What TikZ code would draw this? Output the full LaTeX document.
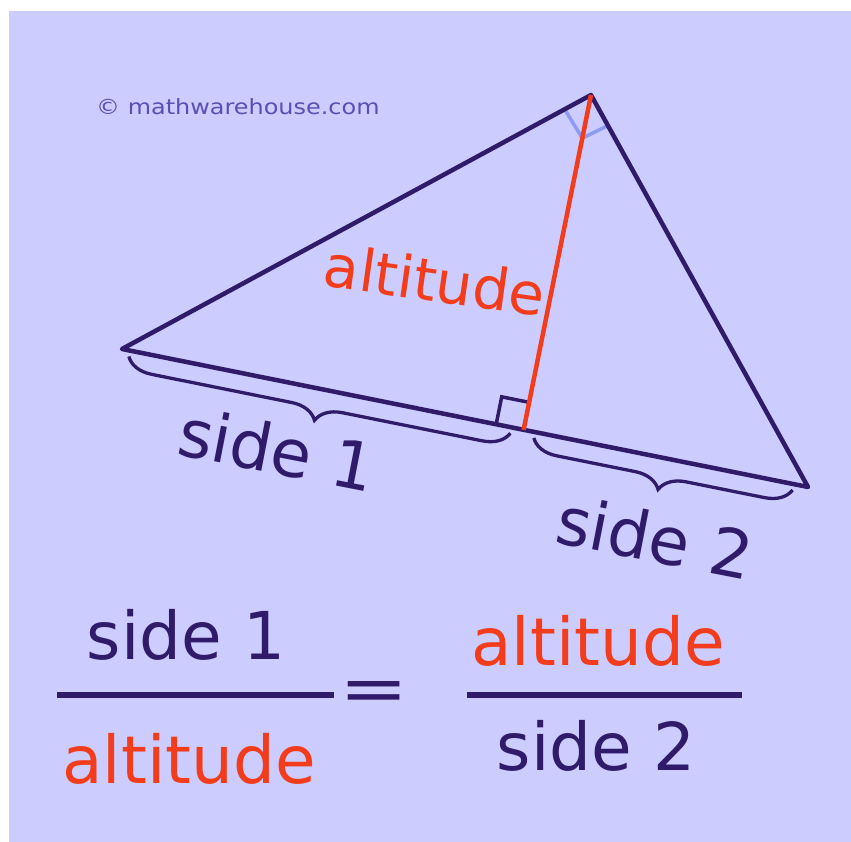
\documentclass[tikz,border=0pt]{standalone}
\usepackage{fontspec}
\setmainfont{DejaVu Sans}
\usetikzlibrary{calc,decorations.pathreplacing}
\definecolor{bg}{HTML}{CCCCFF}
\definecolor{ink}{HTML}{301B6A}
\definecolor{alt}{HTML}{F23C1C}
\definecolor{markc}{HTML}{8C9AF2}
\definecolor{wm}{HTML}{5A50B4}
\begin{document}
\begin{tikzpicture}[x=1pt,y=-1pt,
  sideline/.style={draw=ink, line width=4.5pt, line join=round, line cap=round},
  altline/.style={draw=alt, line width=4.5pt},
  anglemark/.style={draw=markc, line width=3.5pt},
  sqmark/.style={draw=ink, line width=3.5pt},
  fracbar/.style={draw=ink, line width=5.5pt},
  bracestyle/.style={draw=ink, line width=3.3pt, decorate, decoration={brace, mirror, amplitude=26pt, raise=6pt}},
  big/.style={font=\fontsize{66}{72}\selectfont, inner sep=0pt},
  mid/.style={font=\fontsize{58}{64}\selectfont, inner sep=0pt}]
\useasboundingbox (0,0) rectangle (851,842);
\fill[white] (0,0) rectangle (851,842);
\fill[bg] (9,11) rectangle (851,842);

\coordinate (A) at (122,349);
\coordinate (B) at (591,95);
\coordinate (C) at (808,487);
\coordinate (D) at ($(A)!(B)!(C)$);

% angle marks at the top vertex
\coordinate (M1) at ($(B)!30pt!(A)$);
\coordinate (M2) at ($(B)!44pt!(D)$);
\coordinate (M3) at ($(B)!35pt!(C)$);
\draw[anglemark] (M1) -- (M2) -- (M3);

% triangle
\draw[sideline] (A) -- (B) -- (C) -- cycle;

% right angle square
\coordinate (S1) at ($(D)!28pt!(A)$);
\coordinate (S3) at ($(D)!28pt!(B)$);
\coordinate (S2) at ($(S1)+(S3)-(D)$);
\draw[sqmark] (S1) -- (S2) -- (S3);

% altitude
\draw[altline] (B) -- (D);

% braces
\draw[bracestyle] ($(A)!0.02!(D)$) -- ($(A)!0.97!(D)$);
\draw[bracestyle] ($(D)!0.04!(C)$) -- ($(D)!0.95!(C)$);

% labels in the figure
\node[mid, text=alt, rotate=-8] (altlbl) at (435,280) {altitude};
\node[big, text=ink, rotate=-11] (s1lbl) at (277,449) {side 1};
\node[big, text=ink, rotate=-11] (s2lbl) at (655,537) {side 2};

% watermark
\node[anchor=base west, text=wm, font=\fontsize{21}{24}\selectfont, xscale=1.14, inner sep=0pt] (wmk) at (96,115) {© mathwarehouse.com};

% equation
\node[big, anchor=base, text=ink] (n1) at (186,659) {side 1};
\draw[fracbar] (57,695) -- (334,695);
\node[big, anchor=base, text=alt] (d1) at (189,783) {altitude};
\node[big, anchor=base, text=ink, xscale=1.25] (eq) at (374,711) {=};
\node[big, anchor=base, text=alt] (n2) at (598,665) {altitude};
\draw[fracbar] (467,695) -- (742,695);
\node[big, anchor=base, text=ink] (d2) at (596,770) {side 2};
\end{tikzpicture}
\end{document}
